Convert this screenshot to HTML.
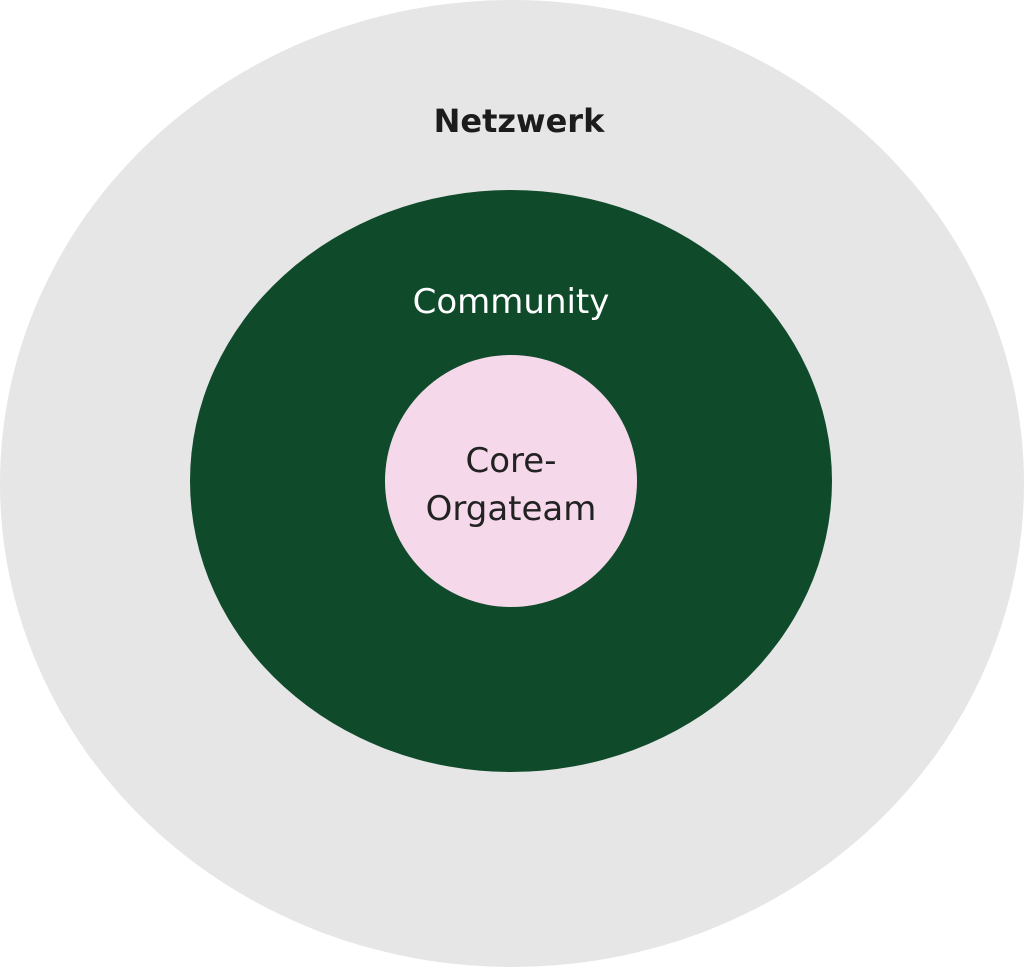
<!DOCTYPE html>
<html><head><meta charset="utf-8"><style>html,body{margin:0;padding:0;background:#fff;}svg{display:block}</style></head>
<body>
<svg width="1024" height="967" viewBox="0 0 1024 967" xmlns="http://www.w3.org/2000/svg">
<ellipse cx="512" cy="483.5" rx="512" ry="483.5" fill="#e6e6e6"/>
<ellipse cx="511" cy="481" rx="321" ry="291" fill="#0f4a2b"/>
<circle cx="511" cy="481" r="126" fill="#f5d9ea"/>
<text x="519" y="132" font-family="'DejaVu Sans',sans-serif" font-weight="bold" font-size="32" fill="#1c1c1c" text-anchor="middle">Netzwerk</text>
<text x="511" y="313" font-family="'DejaVu Sans',sans-serif" font-size="34" fill="#ffffff" text-anchor="middle">Community</text>
<text x="511" y="472" font-family="'DejaVu Sans',sans-serif" font-size="34" fill="#222" text-anchor="middle">Core-</text>
<text x="511" y="520" font-family="'DejaVu Sans',sans-serif" font-size="34" fill="#222" text-anchor="middle">Orgateam</text>
</svg>
</body></html>
